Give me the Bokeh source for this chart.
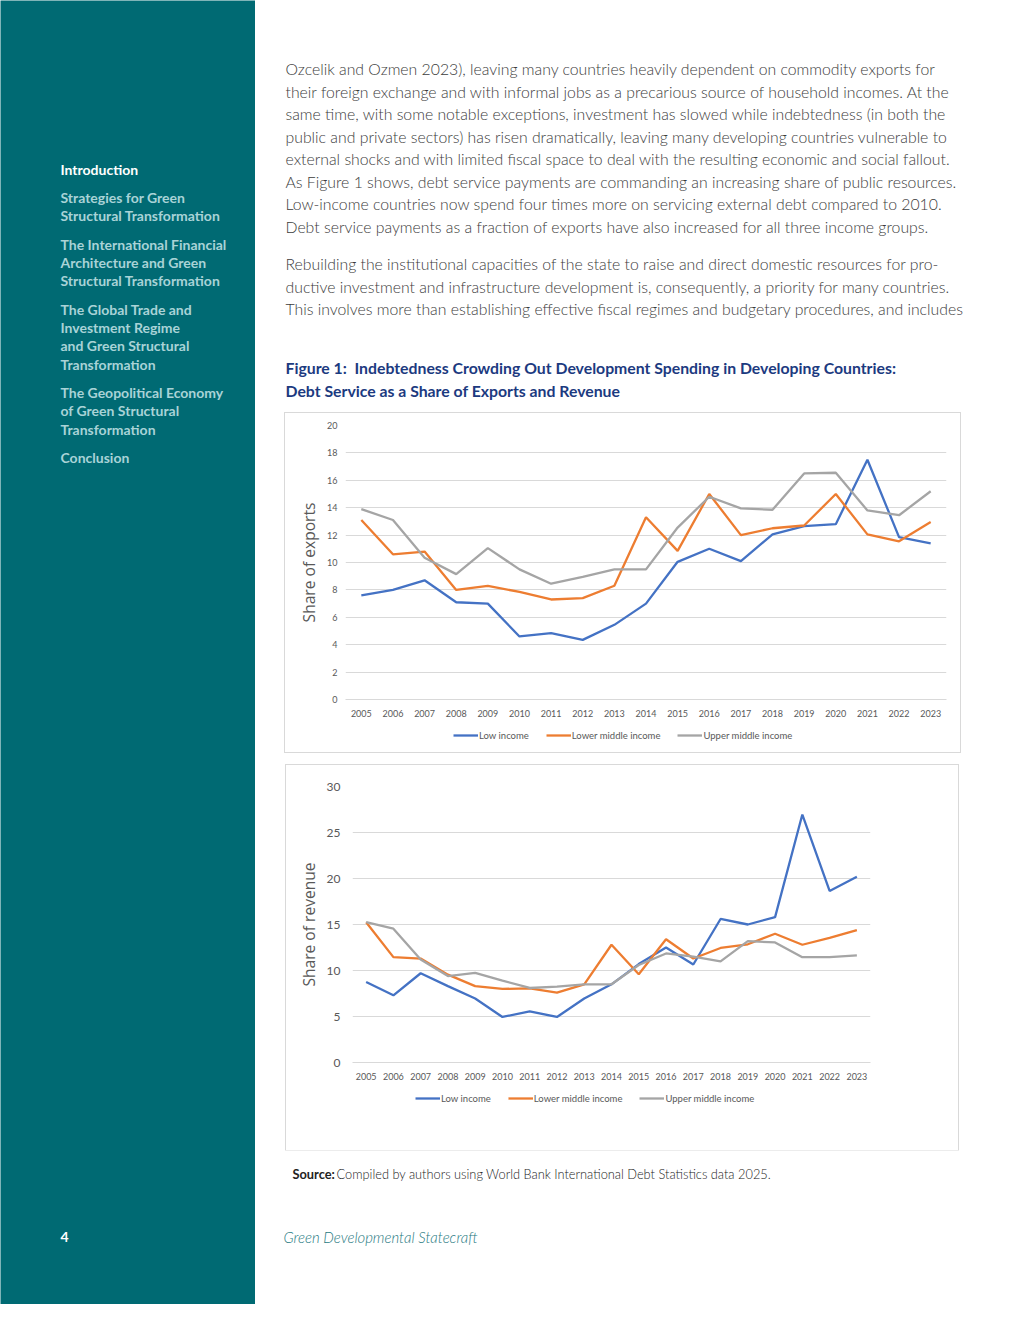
from bokeh.plotting import figure
from bokeh.models import Range1d, FactorRange, FixedTicker, Legend, LegendItem, Spacer
from bokeh.layouts import row, column
from bokeh.embed import file_html
from bokeh.resources import INLINE
from bokeh.core.properties import value

# ---------------- data ----------------
years = ["2005", "2006", "2007", "2008", "2009", "2010", "2011", "2012", "2013", "2014",
         "2015", "2016", "2017", "2018", "2019", "2020", "2021", "2022", "2023"]
series_names = ["Low income", "Lower middle income", "Upper middle income"]

exports_low = [7.6, 8.0, 8.7, 7.1, 7.0, 4.6, 4.85, 4.35, 5.45, 7.0,
               10.05, 11.0, 10.1, 12.05, 12.65, 12.8, 17.5, 11.85, 11.4]
exports_lower_mid = [13.1, 10.6, 10.8, 8.0, 8.3, 7.85, 7.3, 7.4, 8.3, 13.3,
                     10.85, 15.0, 12.0, 12.5, 12.7, 15.0, 12.05, 11.55, 12.95]
exports_upper_mid = [13.9, 13.1, 10.35, 9.15, 11.05, 9.5, 8.45, 8.95, 9.5, 9.5,
                     12.55, 14.8, 13.95, 13.85, 16.5, 16.55, 13.8, 13.45, 15.2]

revenue_low = [8.75, 7.3, 9.7, 8.3, 6.95, 4.95, 5.55, 4.95, 6.95, 8.5,
               10.7, 12.5, 10.65, 15.6, 15.0, 15.8, 26.95, 18.65, 20.2]
revenue_lower_mid = [15.25, 11.45, 11.3, 9.55, 8.3, 8.0, 8.05, 7.6, 8.5, 12.8,
                     9.6, 13.4, 11.3, 12.45, 12.85, 14.0, 12.8, 13.55, 14.4]
revenue_upper_mid = [15.25, 14.55, 11.2, 9.4, 9.75, 8.9, 8.1, 8.25, 8.5, 8.5,
                     10.6, 11.85, 11.5, 11.0, 13.2, 13.05, 11.45, 11.45, 11.65]

exports_ticks = [0, 2, 4, 6, 8, 10, 12, 14, 16, 18, 20]
revenue_ticks = [0, 5, 10, 15, 20, 25, 30]

sidebar_items = [
    ["Introduction"],
    ["Strategies for Green", "Structural Transformation"],
    ["The International Financial", "Architecture and Green", "Structural Transformation"],
    ["The Global Trade and", "Investment Regime", "and Green Structural", "Transformation"],
    ["The Geopolitical Economy", "of Green Structural", "Transformation"],
    ["Conclusion"],
]
paragraph1 = [
    "Ozcelik and Ozmen 2023), leaving many countries heavily dependent on commodity exports for",
    "their foreign exchange and with informal jobs as a precarious source of household incomes. At the",
    "same time, with some notable exceptions, investment has slowed while indebtedness (in both the",
    "public and private sectors) has risen dramatically, leaving many developing countries vulnerable to",
    "external shocks and with limited fiscal space to deal with the resulting economic and social fallout.",
    "As Figure 1 shows, debt service payments are commanding an increasing share of public resources.",
    "Low-income countries now spend four times more on servicing external debt compared to 2010.",
    "Debt service payments as a fraction of exports have also increased for all three income groups.",
]
paragraph2 = [
    "Rebuilding the institutional capacities of the state to raise and direct domestic resources for pro-",
    "ductive investment and infrastructure development is, consequently, a priority for many countries.",
    "This involves more than establishing effective fiscal regimes and budgetary procedures, and includes",
]
caption = [
    "Figure 1:\u00a0\u00a0Indebtedness Crowding Out Development Spending in Developing Countries:",
    "Debt Service as a Share of Exports and Revenue",
]

# ---------------- styles ----------------
TEAL = "#006a73"
SIDE_TEXT = "#a9d3d7"
NAVY = "#1c3a80"
BODY = "#3c3c3c"
COLORS = ["#4472c4", "#ed7d31", "#a5a5a5"]
GRID = "#d9d9d9"
AX = "#595959"


def canvas(w, h, x0, x1, y0, y1, bg="white"):
    f = figure(width=w, height=h, x_range=Range1d(x0, x1), y_range=Range1d(y1, y0),
               x_axis_type=None, y_axis_type=None, output_backend="svg",
               toolbar_location=None, min_border=0, outline_line_color=None,
               background_fill_color=bg, border_fill_color=bg)
    f.grid.visible = False
    return f


# ---------------- sidebar ----------------
side = canvas(255, 1304, 0, 255, 0, 1304, bg=TEAL)
sy = [[169], [197, 215], [244, 262, 280], [309, 327, 345, 364], [392, 410, 429], [457]]
for i, (lines, ys) in enumerate(zip(sidebar_items, sy)):
    side.text(x=[60] * len(lines), y=ys, text=lines,
              text_font=value("Lato"), text_font_style="bold", text_font_size="14px",
              text_color="white" if i == 0 else SIDE_TEXT, text_baseline="middle")
side.text(x=[60], y=[1236], text=["4"], text_font=value("Lato"), text_font_style="bold",
          text_font_size="14px", text_color="white", text_baseline="middle")

# ---------------- top text ----------------
top = canvas(749, 413, 255, 1004, 0, 413)
p1y = [68, 90.5, 113, 135.5, 158, 180.5, 203, 225.5]
p2y = [263, 285.5, 308]
top.text(x=[285] * len(paragraph1), y=p1y, text=paragraph1, text_font=value("Lato Light"),
         text_font_size="15.8px", text_color=BODY, text_baseline="middle")
top.text(x=[285] * len(paragraph2), y=p2y, text=paragraph2, text_font=value("Lato Light"),
         text_font_size="15.8px", text_color=BODY, text_baseline="middle")
top.text(x=[285, 285], y=[367, 390], text=caption, text_font=value("Lato"),
         text_font_style="bold", text_font_size="15.8px", text_color=NAVY, text_baseline="middle")


# ---------------- charts ----------------
def make_chart(w, h, bl, br, bt, bb, ymax, ticks, ytitle, data, ytick_size, y_standoff):
    p = figure(width=w, height=h, x_range=FactorRange(*years), y_range=Range1d(0, ymax),
               output_backend="svg", toolbar_location=None,
               min_border_left=bl, min_border_right=br, min_border_top=bt, min_border_bottom=bb,
               outline_line_color=None, background_fill_color="white", border_fill_color="white")
    p.xgrid.visible = False
    p.ygrid.grid_line_color = GRID
    p.ygrid.ticker = FixedTicker(ticks=ticks)
    p.yaxis.ticker = FixedTicker(ticks=ticks)
    p.yaxis.axis_line_color = None
    p.yaxis.major_tick_line_color = None
    p.yaxis.major_tick_out = 0
    p.yaxis.major_tick_in = 0
    p.yaxis.minor_tick_line_color = None
    p.yaxis.major_label_text_font = "Lato"
    p.yaxis.major_label_text_font_size = ytick_size
    p.yaxis.major_label_text_color = AX
    p.yaxis.major_label_standoff = y_standoff
    p.yaxis.axis_label = ytitle
    p.yaxis.axis_label_text_font = "Open Sans"
    p.yaxis.axis_label_text_font_style = "normal"
    p.yaxis.axis_label_text_font_size = "15.6px"
    p.yaxis.axis_label_text_color = AX
    p.yaxis.axis_label_standoff = 4
    p.xaxis.axis_line_color = GRID
    p.xaxis.major_tick_line_color = None
    p.xaxis.major_tick_out = 0
    p.xaxis.major_tick_in = 0
    p.xaxis.minor_tick_line_color = None
    p.xaxis.major_label_text_font = "Lato"
    p.xaxis.major_label_text_font_size = "9px"
    p.xaxis.major_label_text_color = AX
    p.xaxis.major_label_standoff = 10
    for vals, col in zip(data, COLORS):
        p.line(x=years, y=vals, line_color=col, line_width=2.3)
    return p


def make_legend(w, h, lx, ly):
    f = canvas(w, h, 0, w, 0, h)
    items = []
    for name, col in zip(series_names, COLORS):
        # sample-only renderer, kept outside the visible range
        r = f.line(x=[-20, -10], y=[-20, -10], line_color=col, line_width=2.3)
        items.append(LegendItem(label=name, renderers=[r]))
    leg = Legend(items=items, orientation="horizontal", location=(lx, ly),
                 padding=0, margin=0, spacing=17, glyph_width=25, glyph_height=12,
                 label_height=12, label_standoff=1, label_text_font="Lato",
                 label_text_font_size="9.5px", label_text_color=AX,
                 border_line_color=None, background_fill_alpha=0)
    f.add_layout(leg)
    return f


BOX = {"box-shadow": "0 0 0 1px #d9d9d9"}

chart1 = make_chart(675, 312, 60, 14, 12, 26, 20, exports_ticks, "Share of exports",
                    [exports_low, exports_lower_mid, exports_upper_mid], "9px", 8)
legend1 = make_legend(675, 27, 108, 11)
box1 = column(chart1, legend1, styles=BOX)

chart2 = make_chart(672, 323, 66, 88, 21, 26, 30, revenue_ticks, "Share of revenue",
                    [revenue_low, revenue_lower_mid, revenue_upper_mid], "12px", 12)
legend2 = make_legend(672, 62, 63, 46)
box2 = column(chart2, legend2, styles=BOX)

# ---------------- footer ----------------
foot = canvas(749, 154, 255, 1004, 1150, 1304)
foot.text(x=[292], y=[1173], text=["Source:"], text_font=value("Lato"), text_font_style="bold",
          text_font_size="12.8px", text_color="#222222", text_baseline="middle")
foot.text(x=[336], y=[1173], text=["Compiled by authors using World Bank International Debt Statistics data 2025."],
          text_font=value("Lato Light"), text_font_size="12.8px", text_color="#222222",
          text_baseline="middle")
foot.text(x=[283], y=[1236], text=["Green Developmental Statecraft"], text_font=value("Lato Light"),
          text_font_style="italic", text_font_size="14.9px", text_color="#1f7a82",
          text_baseline="middle")

right = column(
    top,
    row(Spacer(width=30, height=339), box1, Spacer(width=44, height=339)),
    Spacer(width=749, height=13),
    row(Spacer(width=31, height=385), box2, Spacer(width=46, height=385)),
    foot,
)
page = row(side, right)

open("out.html", "w").write(file_html(page, INLINE))
